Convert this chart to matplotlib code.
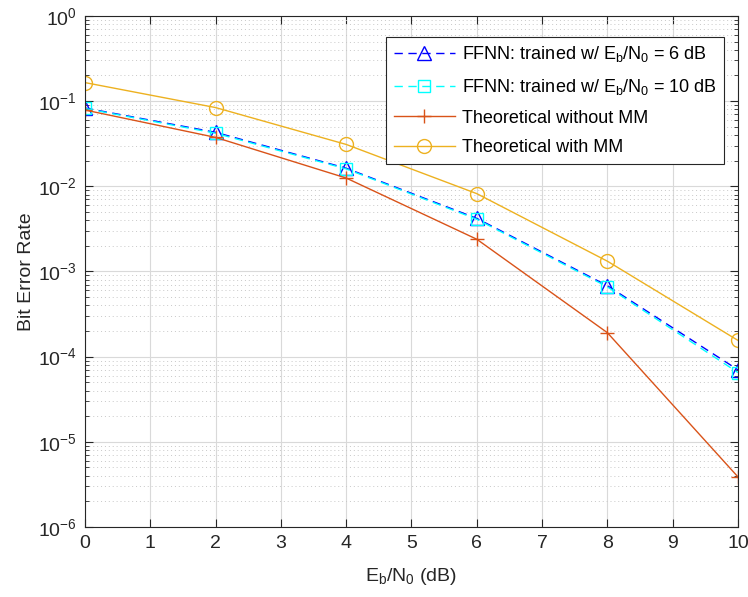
import matplotlib.pyplot as plt
from matplotlib.ticker import LogLocator, NullFormatter, FixedLocator

plt.rcParams['font.family'] = ['Liberation Sans', 'DejaVu Sans']
plt.rcParams['mathtext.fontset'] = 'custom'
plt.rcParams['mathtext.rm'] = 'Liberation Sans'
plt.rcParams['mathtext.it'] = 'Liberation Sans'
plt.rcParams['mathtext.default'] = 'regular'

ebn0 = [0, 2, 4, 6, 8, 10]
ffnn_6db = [0.083, 0.043, 0.0163, 0.0042, 6.8e-4, 7.0e-5]
ffnn_10db = [0.082, 0.042, 0.0160, 0.0041, 6.6e-4, 6.5e-5]
theo_no_mm = [0.0786, 0.0375, 0.0125, 0.00239, 1.91e-4, 3.87e-6]
theo_mm = [0.165, 0.084, 0.031, 0.0082, 0.00132, 1.55e-4]

fig = plt.figure(figsize=(7.48, 5.97), dpi=100)
ax = fig.add_axes([0.1136, 0.1173, 0.873, 0.856])

ax.semilogy(ebn0, ffnn_6db, '--^', color=(0, 0, 1), lw=1, ms=10, mfc='none', mew=1,
            dashes=(6, 4), label=r'FFNN: trained w/ $E_b/N_0$ = 6 dB')
ax.semilogy(ebn0, ffnn_10db, '--s', color=(0, 1, 1), lw=1, ms=8, mfc='none', mew=1,
            dashes=(6, 4), label=r'FFNN: trained w/ $E_b/N_0$ = 10 dB')
ax.semilogy(ebn0, theo_no_mm, '-+', color='#D95319', lw=1, ms=10, mew=1,
            label='Theoretical without MM')
ax.semilogy(ebn0, theo_mm, '-o', color='#EDB120', lw=1, ms=10, mfc='none', mew=1,
            label='Theoretical with MM')

ax.set_xlim(0, 10)
ax.set_ylim(1e-6, 1)
ax.xaxis.set_major_locator(FixedLocator(range(0, 11)))
ax.yaxis.set_major_locator(LogLocator(base=10, numticks=10))
ax.yaxis.set_minor_locator(LogLocator(base=10, subs=range(2, 10), numticks=20))
ax.yaxis.set_minor_formatter(NullFormatter())

ax.grid(which='major', color='#d9d9d9', lw=0.8, ls='-')
ax.grid(which='minor', axis='y', color='#c8c8c8', lw=0.7, ls=(0, (1, 3)))
ax.set_axisbelow(True)

ax.tick_params(which='both', direction='in', top=True, right=True, colors='#262626',
               labelsize=14)
ax.tick_params(which='major', length=6, pad=6)
ax.tick_params(which='minor', length=3)
for s in ax.spines.values():
    s.set_color('#262626')
    s.set_linewidth(0.8)

ax.set_xlabel(r'$E_b/N_0$ (dB)', fontsize=14, color='#262626', labelpad=10)
ax.set_ylabel('Bit Error Rate', fontsize=14, color='#262626', labelpad=2)

leg = ax.legend(loc='upper right', bbox_to_anchor=(0.993, 0.976), fontsize=13,
                fancybox=False, edgecolor='#262626', framealpha=1, handlelength=3.4,
                borderpad=0.4, labelspacing=0.7, handletextpad=0.4)
leg.get_frame().set_linewidth(0.8)

fig.savefig('out.png', dpi=100)
